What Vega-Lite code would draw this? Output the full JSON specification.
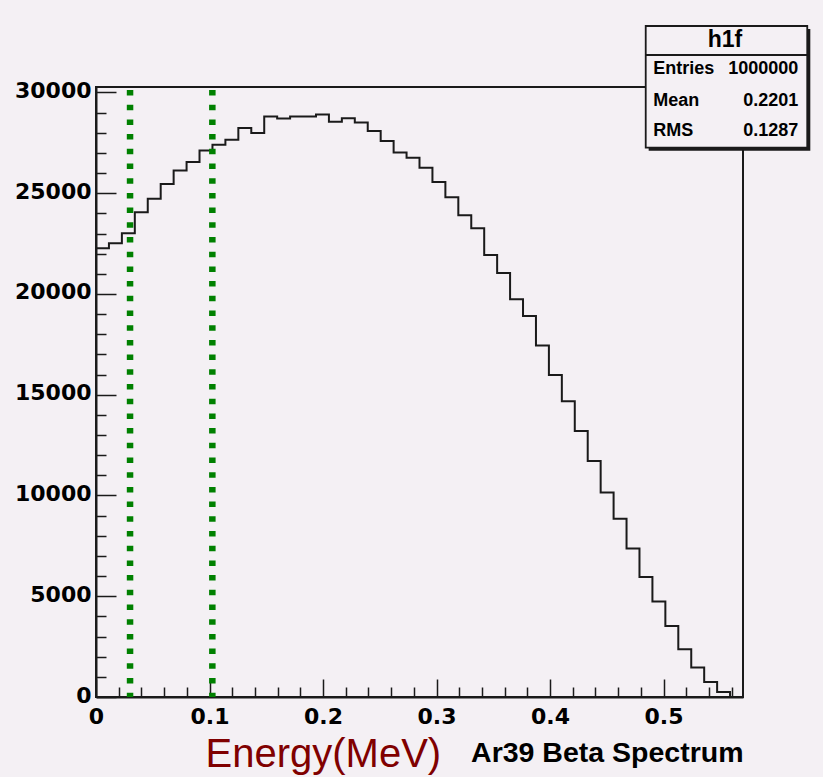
{
  "$schema": "https://vega.github.io/schema/vega-lite/v6.json",
  "width": 647,
  "height": 610,
  "autosize": "none",
  "padding": {"left": 96, "top": 87, "right": 80, "bottom": 80},
  "background": "#f4f0f4",
  "config": {
    "view": {"stroke": "#1a1a1a", "strokeWidth": 2, "fill": "#f4f0f4"},
    "axis": {"labelOverlap": false, "labelBound": false}
  },
  "datasets": {
    "hist": [
      {"e": 0, "n": 22272}, {"e": 0.0114, "n": 22520}, {"e": 0.0228, "n": 23017}, {"e": 0.0342, "n": 24060},
      {"e": 0.0456, "n": 24721}, {"e": 0.057, "n": 25451}, {"e": 0.0684, "n": 26126}, {"e": 0.0798, "n": 26544},
      {"e": 0.0912, "n": 27120}, {"e": 0.1026, "n": 27403}, {"e": 0.114, "n": 27651}, {"e": 0.1254, "n": 28232},
      {"e": 0.1368, "n": 27984}, {"e": 0.1482, "n": 28808}, {"e": 0.1596, "n": 28709}, {"e": 0.171, "n": 28808},
      {"e": 0.1824, "n": 28808}, {"e": 0.1938, "n": 28908}, {"e": 0.2052, "n": 28545}, {"e": 0.2166, "n": 28719},
      {"e": 0.228, "n": 28510}, {"e": 0.2394, "n": 28083}, {"e": 0.2508, "n": 27587}, {"e": 0.2622, "n": 27020},
      {"e": 0.2736, "n": 26757}, {"e": 0.285, "n": 26260}, {"e": 0.2964, "n": 25550}, {"e": 0.3078, "n": 24805},
      {"e": 0.3192, "n": 23911}, {"e": 0.3306, "n": 23265}, {"e": 0.342, "n": 21939}, {"e": 0.3534, "n": 21045},
      {"e": 0.3648, "n": 19739}, {"e": 0.3762, "n": 18909}, {"e": 0.3876, "n": 17444}, {"e": 0.399, "n": 15979},
      {"e": 0.4104, "n": 14672}, {"e": 0.4218, "n": 13197}, {"e": 0.4332, "n": 11707}, {"e": 0.4446, "n": 10152},
      {"e": 0.456, "n": 8841}, {"e": 0.4674, "n": 7371}, {"e": 0.4788, "n": 5960}, {"e": 0.4902, "n": 4738},
      {"e": 0.5016, "n": 3527}, {"e": 0.513, "n": 2369}, {"e": 0.5244, "n": 1460}, {"e": 0.5358, "n": 745},
      {"e": 0.5472, "n": 248}, {"e": 0.5586, "n": 0}
    ],
    "cuts": [{"cut": 0.03}, {"cut": 0.1025}],
    "stats": [
      {"name": "Entries", "value": "1000000"},
      {"name": "Mean", "value": "0.2201"},
      {"name": "RMS", "value": "0.1287"}
    ],
    "box": [{"title": "h1f"}]
  },
  "layer": [
    {
      "data": {"name": "hist"},
      "mark": {"type": "line", "interpolate": "step-after", "color": "#1a1a1a", "strokeWidth": 2},
      "encoding": {
        "x": {
          "field": "e", "type": "quantitative",
          "scale": {"domain": [0, 0.57], "nice": false, "zero": false},
          "axis": {
            "values": [0, 0.02, 0.04, 0.06, 0.08, 0.1, 0.12, 0.14, 0.16, 0.18, 0.2, 0.22, 0.24, 0.26, 0.28, 0.3, 0.32, 0.34, 0.36, 0.38, 0.4, 0.42, 0.44, 0.46, 0.48, 0.5, 0.52, 0.54, 0.56],
            "tickCount": 200,
            "labelExpr": "abs(datum.value*10 - round(datum.value*10)) < 1e-6 ? format(datum.value, '.1~f') : ''",
            "tickSize": {"condition": {"test": "abs(datum.value*10 - round(datum.value*10)) < 1e-6", "value": -18}, "value": -10},
            "tickColor": "#1a1a1a", "tickWidth": 1.5,
            "domainColor": "#1a1a1a", "domainWidth": 2,
            "labelFont": "DejaVu Sans", "labelFontWeight": "bold", "labelFontSize": 22, "labelColor": "#000000",
            "labelPadding": 27, "labelOverlap": false, "labelFlush": false, "labelBound": false,
            "grid": false,
            "title": "Ar39 Beta Spectrum",
            "titleFont": "Liberation Sans", "titleFontWeight": "bold", "titleFontSize": 28.5, "titleColor": "#000000",
            "titleAlign": "right", "titleAnchor": "end", "titleX": 647, "titleY": 64, "titleBaseline": "alphabetic"
          }
        },
        "y": {
          "field": "n", "type": "quantitative",
          "scale": {"domain": [0, 30270], "nice": false},
          "axis": {
            "values": [0, 1000, 2000, 3000, 4000, 5000, 6000, 7000, 8000, 9000, 10000, 11000, 12000, 13000, 14000, 15000, 16000, 17000, 18000, 19000, 20000, 21000, 22000, 23000, 24000, 25000, 26000, 27000, 28000, 29000, 30000],
            "tickCount": 200,
            "labelExpr": "datum.value % 5000 === 0 ? format(datum.value, 'd') : ''",
            "tickSize": {"condition": {"test": "datum.value % 5000 === 0", "value": -20}, "value": -10},
            "tickColor": "#1a1a1a", "tickWidth": 1.5,
            "domainColor": "#1a1a1a", "domainWidth": 2,
            "labelFont": "DejaVu Sans", "labelFontWeight": "bold", "labelFontSize": 22, "labelColor": "#000000",
            "labelPadding": 25, "labelOffset": -2, "labelOverlap": false, "labelFlush": false, "labelBound": false,
            "grid": false,
            "title": "Energy(MeV)",
            "titleFont": "Liberation Sans", "titleFontWeight": "normal", "titleFontSize": 40, "titleColor": "#800000",
            "titleAngle": 0, "titleAlign": "left", "titleAnchor": null, "titleX": 109, "titleY": 679, "titleBaseline": "alphabetic"
          }
        }
      }
    },
    {
      "data": {"name": "cuts"},
      "mark": {"type": "rule", "color": "#008000", "strokeWidth": 6.5, "strokeDash": [5.5, 9.2], "strokeCap": "butt"},
      "encoding": {
        "x": {"field": "cut", "type": "quantitative"},
        "y": {"datum": 30121, "type": "quantitative"},
        "y2": {"datum": 0}
      }
    },
    {
      "data": {"name": "box"},
      "mark": {"type": "rect", "fill": "#1a1a1a"},
      "encoding": {
        "x": {"datum": 0.4869, "type": "quantitative"}, "x2": {"datum": 0.6293},
        "y": {"datum": 33148, "type": "quantitative"}, "y2": {"datum": 27109}
      }
    },
    {
      "data": {"name": "box"},
      "mark": {"type": "rect", "fill": "#f4f0f4", "stroke": "#1a1a1a", "strokeWidth": 1.8},
      "encoding": {
        "x": {"datum": 0.4843, "type": "quantitative"}, "x2": {"datum": 0.6266},
        "y": {"datum": 33297, "type": "quantitative"}, "y2": {"datum": 27258}
      }
    },
    {
      "data": {"name": "box"},
      "mark": {"type": "rule", "color": "#1a1a1a", "strokeWidth": 1.8},
      "encoding": {
        "x": {"datum": 0.4843, "type": "quantitative"}, "x2": {"datum": 0.6266},
        "y": {"datum": 31858, "type": "quantitative"}
      }
    },
    {
      "data": {"name": "box"},
      "mark": {"type": "text", "align": "center", "baseline": "alphabetic", "font": "Liberation Sans", "fontWeight": "bold", "fontSize": 23, "color": "#000000"},
      "encoding": {
        "x": {"datum": 0.5541, "type": "quantitative"},
        "y": {"datum": 32270, "type": "quantitative"},
        "text": {"field": "title"}
      }
    },
    {
      "data": {"name": "stats"},
      "transform": [{"filter": "datum.name === 'Entries'"}],
      "encoding": {"y": {"datum": 30915, "type": "quantitative"}},
      "layer": [
        {"mark": {"type": "text", "align": "left", "baseline": "alphabetic", "font": "Liberation Sans", "fontWeight": "bold", "fontSize": 18, "color": "#000000"},
         "encoding": {"x": {"datum": 0.4910, "type": "quantitative"}, "text": {"field": "name"}}},
        {"mark": {"type": "text", "align": "right", "baseline": "alphabetic", "font": "Liberation Sans", "fontWeight": "bold", "fontSize": 18, "color": "#000000"},
         "encoding": {"x": {"datum": 0.6187, "type": "quantitative"}, "text": {"field": "value"}}}
      ]
    },
    {
      "data": {"name": "stats"},
      "transform": [{"filter": "datum.name === 'Mean'"}],
      "encoding": {"y": {"datum": 29327, "type": "quantitative"}},
      "layer": [
        {"mark": {"type": "text", "align": "left", "baseline": "alphabetic", "font": "Liberation Sans", "fontWeight": "bold", "fontSize": 18, "color": "#000000"},
         "encoding": {"x": {"datum": 0.4910, "type": "quantitative"}, "text": {"field": "name"}}},
        {"mark": {"type": "text", "align": "right", "baseline": "alphabetic", "font": "Liberation Sans", "fontWeight": "bold", "fontSize": 18, "color": "#000000"},
         "encoding": {"x": {"datum": 0.6187, "type": "quantitative"}, "text": {"field": "value"}}}
      ]
    },
    {
      "data": {"name": "stats"},
      "transform": [{"filter": "datum.name === 'RMS'"}],
      "encoding": {"y": {"datum": 27839, "type": "quantitative"}},
      "layer": [
        {"mark": {"type": "text", "align": "left", "baseline": "alphabetic", "font": "Liberation Sans", "fontWeight": "bold", "fontSize": 18, "color": "#000000"},
         "encoding": {"x": {"datum": 0.4910, "type": "quantitative"}, "text": {"field": "name"}}},
        {"mark": {"type": "text", "align": "right", "baseline": "alphabetic", "font": "Liberation Sans", "fontWeight": "bold", "fontSize": 18, "color": "#000000"},
         "encoding": {"x": {"datum": 0.6187, "type": "quantitative"}, "text": {"field": "value"}}}
      ]
    }
  ]
}
